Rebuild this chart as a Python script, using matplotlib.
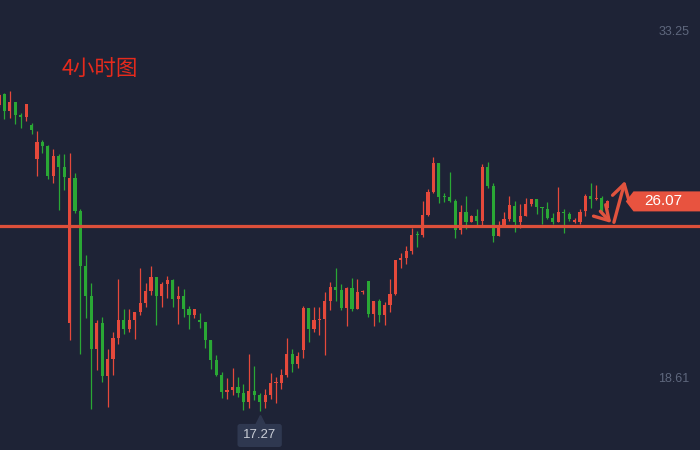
import numpy as np
import matplotlib
matplotlib.use("Agg")
import matplotlib.pyplot as plt
from matplotlib.patches import Polygon
from matplotlib.transforms import blended_transform_factory, offset_copy

plt.rcParams['font.family'] = ['Noto Sans CJK SC', 'DejaVu Sans']

# 4h candles, red = up, green = down
opens = [30.12, 30.58, 29.86, 30.24, 29.70, 29.61, 29.28, 27.85, 28.56, 28.40,
         27.14, 27.98, 27.52, 20.97, 27.05, 25.67, 23.36, 22.10, 19.88, 20.97,
         18.75, 19.46, 20.34, 21.09, 20.72, 21.09, 21.43, 21.81, 22.31, 22.90,
         22.10, 22.61, 22.77, 21.98, 22.10, 21.56, 21.30, 21.09, 21.01, 20.26,
         19.42, 18.79, 18.08, 18.16, 18.29, 18.03, 17.66, 18.12, 17.95, 17.66,
         17.95, 18.45, 18.45, 18.79, 19.67, 19.25, 19.84, 21.60, 20.72, 21.09,
         21.14, 21.89, 22.48, 22.35, 21.60, 22.44, 21.56, 22.27, 22.73, 21.35,
         21.89, 21.30, 21.73, 22.19, 23.61, 23.70, 23.99, 24.71, 24.66, 25.49,
         26.47, 27.68, 26.30, 26.26, 26.09, 24.87, 25.63, 25.21, 25.46, 25.25,
         27.51, 26.72, 24.62, 25.08, 25.33, 25.88, 25.21, 25.46, 25.96, 26.17,
         25.84, 25.75, 25.38, 25.21, 25.63, 25.54, 25.21, 25.21, 25.67, 26.30,
         26.17, 26.21, 25.80]
highs = [30.62, 30.62, 30.70, 30.24, 29.78, 30.16, 29.36, 29.02, 28.65, 28.44,
         28.27, 28.06, 28.06, 28.10, 27.26, 25.75, 23.82, 22.65, 21.09, 21.22,
         19.88, 20.59, 22.82, 21.56, 21.56, 21.43, 23.28, 22.65, 23.36, 22.90,
         22.69, 22.94, 22.82, 22.52, 22.40, 21.68, 21.56, 21.39, 21.01, 20.26,
         19.63, 18.91, 18.66, 19.08, 18.70, 18.41, 19.67, 19.17, 18.03, 18.20,
         18.87, 18.70, 19.04, 20.34, 19.88, 19.75, 21.68, 21.60, 21.64, 21.64,
         22.27, 22.69, 23.28, 22.61, 22.48, 22.86, 22.82, 22.35, 22.73, 21.89,
         21.98, 21.85, 22.82, 23.61, 23.91, 24.20, 24.96, 24.83, 26.09, 26.59,
         27.93, 27.68, 26.42, 27.30, 26.17, 25.92, 26.30, 25.49, 25.75, 27.64,
         27.72, 26.84, 25.25, 25.63, 26.30, 26.09, 25.96, 26.21, 26.17, 26.17,
         25.84, 26.05, 25.58, 26.68, 25.75, 25.63, 25.38, 25.75, 26.38, 26.84,
         26.76, 26.30, 26.13]
lows = [30.03, 29.53, 29.57, 29.32, 29.15, 29.44, 28.90, 27.14, 28.10, 27.01,
        26.84, 25.71, 26.55, 20.26, 25.58, 19.67, 21.18, 17.36, 19.00, 18.50,
        17.45, 18.79, 20.09, 20.51, 20.59, 20.30, 21.30, 21.64, 22.14, 20.89,
        21.64, 22.02, 21.64, 20.93, 21.22, 20.72, 21.18, 20.76, 19.92, 19.04,
        18.75, 17.82, 17.78, 17.95, 17.87, 17.32, 17.40, 17.74, 17.27, 17.40,
        17.78, 17.61, 18.20, 18.70, 18.91, 19.08, 19.50, 20.17, 20.59, 20.47,
        19.63, 21.52, 21.89, 21.52, 20.84, 21.47, 21.56, 22.19, 21.22, 20.84,
        21.01, 20.89, 21.43, 22.14, 23.28, 23.45, 23.86, 24.15, 24.57, 25.45,
        26.42, 26.00, 26.05, 26.05, 24.54, 24.71, 24.91, 25.21, 25.08, 25.08,
        26.63, 24.37, 24.62, 25.04, 25.25, 24.79, 24.96, 25.46, 25.88, 25.54,
        25.12, 25.33, 25.12, 25.21, 24.75, 25.25, 25.17, 25.12, 25.46, 25.80,
        26.13, 25.63, 25.63]
closes = [30.53, 29.86, 30.24, 29.70, 29.61, 30.16, 29.07, 28.56, 28.40, 27.14,
          27.98, 27.52, 27.10, 27.05, 25.67, 23.36, 22.10, 19.88, 20.97, 18.75,
          19.46, 20.34, 21.09, 20.72, 21.09, 21.43, 21.81, 22.31, 22.90, 22.10,
          22.61, 22.77, 21.98, 22.10, 21.56, 21.30, 21.56, 21.01, 20.26, 19.42,
          18.79, 18.08, 18.16, 18.29, 18.03, 17.66, 18.12, 17.95, 17.66, 17.95,
          18.45, 18.50, 18.79, 19.67, 19.25, 19.59, 21.60, 20.72, 21.09, 21.14,
          21.89, 22.48, 22.35, 21.60, 22.44, 21.56, 22.27, 22.31, 21.35, 21.89,
          21.30, 21.73, 22.19, 23.61, 23.70, 23.99, 24.66, 24.66, 25.49, 26.47,
          27.68, 26.26, 26.26, 26.09, 24.87, 25.63, 25.21, 25.46, 25.25, 27.51,
          26.72, 24.62, 24.96, 25.33, 25.92, 25.21, 25.46, 25.96, 26.17, 25.84,
          25.80, 25.38, 25.21, 25.63, 25.58, 25.33, 25.29, 25.63, 26.30, 26.17,
          26.21, 25.67, 26.07]

support = 25.04
last_price = 26.07
low_label = "17.27"
axis_labels = ["33.25", "18.61"]
title = "4小时图"

bg = '#1e2336'
up_c = '#e5493b'
down_c = '#2aa835'
num_font = ['Liberation Sans', 'DejaVu Sans']

o = np.array(opens); h = np.array(highs); l = np.array(lows); c = np.array(closes)
x = np.arange(len(o))
cols = np.where(c >= o, up_c, down_c)

fig = plt.figure(figsize=(7, 4.5), dpi=100)
fig.patch.set_facecolor(bg)
ax = fig.add_axes([0, 0, 1, 1])
ax.set_facecolor(bg)

ax.vlines(x, l, h, colors=cols, linewidth=0.9, zorder=2)
body = np.maximum(np.abs(c - o), 0.04)
ax.bar(x, body, bottom=np.minimum(o, c), width=0.58, color=cols, linewidth=0, zorder=3)

ax.axhline(support, color='#dc4f3a', linewidth=2.3, zorder=4)

ax.set_xlim(0.18, 129.1)
ax.set_ylim(15.64, 34.52)
ax.axis('off')

# title
ax.text(0.088, 0.845, title, transform=ax.transAxes, color='#e62a1c',
        fontsize=15.5, ha='left', va='center')

# axis price labels
bt = blended_transform_factory(ax.transAxes, ax.transData)
ax.text(0.985, 0.928, axis_labels[0], transform=ax.transAxes, color='#5e677d',
        fontsize=9, ha='right', va='center', family=num_font)
ax.text(0.985, float(axis_labels[1]), axis_labels[1], transform=bt,
        color='#5e677d', fontsize=9, ha='right', va='center', family=num_font)

# last price tag
hh = 0.42
tag = Polygon([(0.894, last_price), (0.905, last_price + hh), (1.0, last_price + hh),
               (1.0, last_price - hh), (0.905, last_price - hh)],
              closed=True, transform=bt, facecolor='#e8533f', edgecolor='none', zorder=5)
ax.add_patch(tag)
ax.text(0.947, last_price, f"{last_price:.2f}", transform=bt, color='white',
        fontsize=11, ha='center', va='center', zorder=6, family=num_font)

# low marker
imin = int(np.argmin(l))
ax.annotate(low_label, xy=(imin, l[imin]), xytext=(0, -17.5), textcoords='offset points',
            ha='center', va='center', color='#c9cdd6', fontsize=9.5, family=num_font,
            bbox=dict(boxstyle='round,pad=0.42,rounding_size=0.2', fc='#2f3850', ec='none'))
tri_tr = offset_copy(ax.transData, fig=fig, x=0, y=-6.5, units='points')
ax.plot([imin], [l[imin]], marker='^', markersize=7.5, color='#2f3850',
        transform=tri_tr, zorder=5)

# hand-drawn arrows
arr = dict(arrowstyle='->,head_length=1.0,head_width=0.6', color='#e0533e', lw=2.4)
ax.annotate('', xy=(0.876, 0.5), xytext=(0.855, 0.535), xycoords='axes fraction',
            textcoords='axes fraction', arrowprops=arr)
ax.annotate('', xy=(0.894, 0.604), xytext=(0.876, 0.5), xycoords='axes fraction',
            textcoords='axes fraction', arrowprops=arr)

plt.savefig('out.png', dpi=100, facecolor=bg)
